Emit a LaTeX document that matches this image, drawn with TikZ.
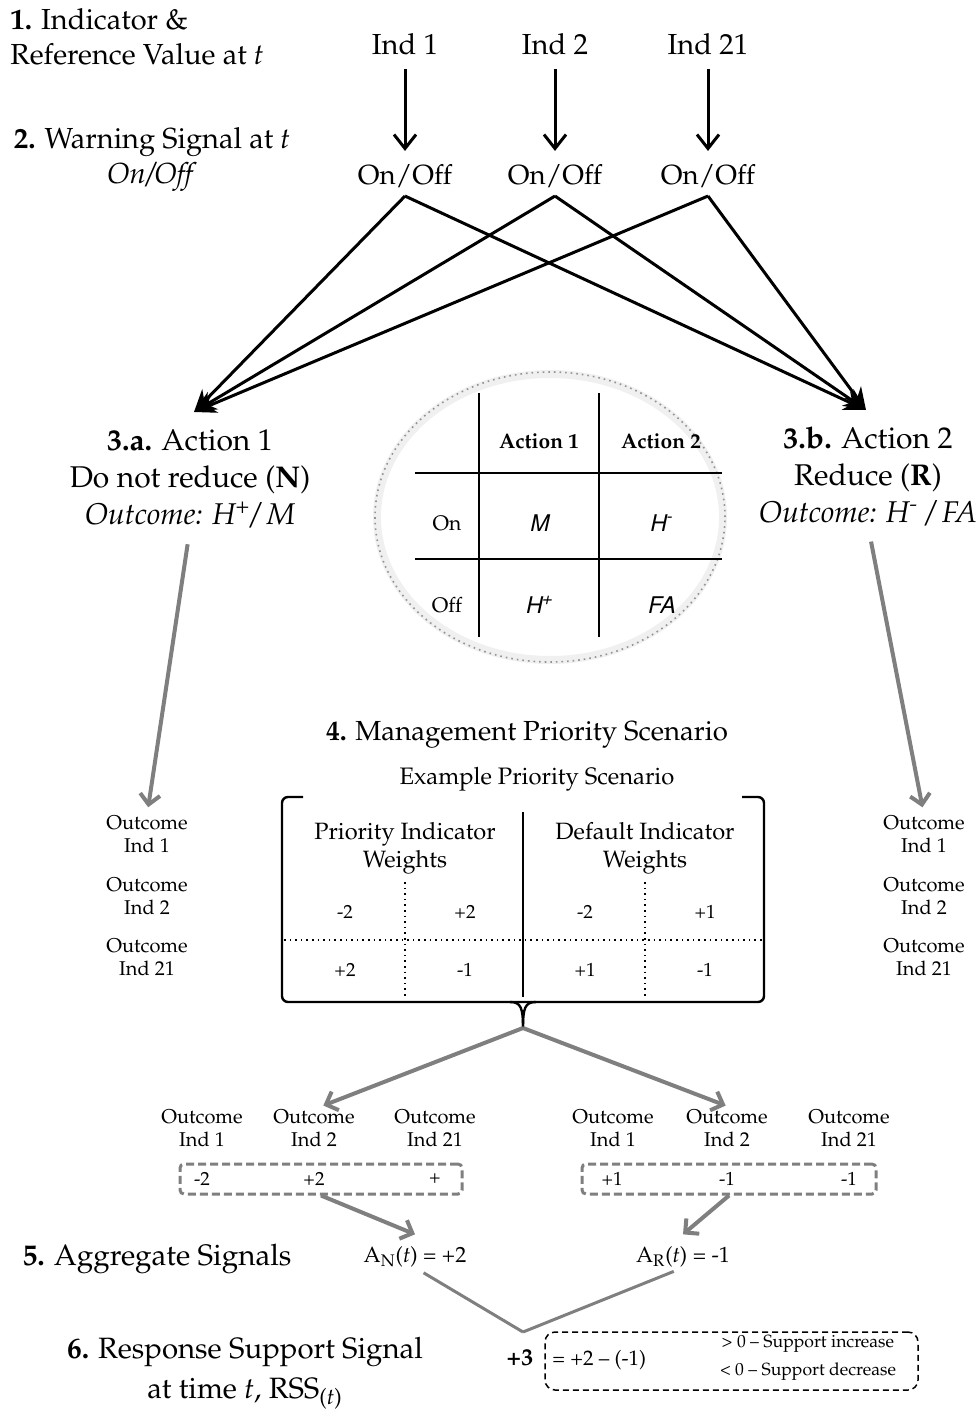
\documentclass[tikz,border=0pt]{standalone}
\usepackage[T1]{fontenc}
\usepackage{mathpazo}
\usepackage[scaled=0.92]{helvet}
\usetikzlibrary{arrows.meta,shapes.geometric}
\newcommand\fsz[2]{\fontsize{#1}{#2}\selectfont}
\definecolor{gr}{HTML}{7F7F7F}
\begin{document}
\begin{tikzpicture}[x=0.5pt,y=-0.5pt,
  lab/.style={inner sep=0pt, align=center},
  big/.style={lab, font=\fsz{14.5}{17.5}},
  act/.style={lab, font=\fsz{15}{18.5}},
  head/.style={lab, font=\fsz{14.8}{20}},
  outc/.style={lab, font=\fsz{10}{11.5}},
  val/.style={lab, font=\fsz{9.5}{11}},
  tab/.style={lab, font=\fsz{10.5}{12}},
  tabit/.style={lab, font=\sffamily\itshape\fsz{12.5}{14}},
  vert/.style={line width=1.5pt, -{Straight Barb[length=7pt,width=11pt]}, shorten <=7pt, shorten >=6.5pt},
  cross/.style={line width=1.5pt, -{Stealth[length=11pt,width=10pt]}},
  grarrow/.style={draw=gr, line width=2pt, -{Straight Barb[length=5pt,width=10pt]}},
  grline/.style={draw=gr, line width=1.5pt},
  gdash/.style={draw=gr, line width=1.5pt, dash pattern=on 4pt off 2pt, rounded corners=2pt},
  thinline/.style={line width=0.9pt},
  dotline/.style={line width=0.8pt, dotted}
]
\useasboundingbox (0,0) rectangle (975,1417);

% --- headings ---
\node[big, anchor=west, align=left] (h1) at (10,37) {\textbf{1.} Indicator \&\\Reference Value at \textit{t}};
\node[big] (h2) at (152,160) {\textbf{2.} Warning Signal at \textit{t}\\\textit{On/Off}};

% --- indicators ---
\node[big] (i1) at (405,44) {Ind 1};
\node[big] (i2) at (555,44) {Ind 2};
\node[big] (i21) at (708,44) {Ind 21};
\node[big, font=\fsz{13.8}{16}] (on1) at (405,176) {On/Off};
\node[big, font=\fsz{13.8}{16}] (on2) at (555,176) {On/Off};
\node[big, font=\fsz{13.8}{16}] (on21) at (708,176) {On/Off};
\draw[vert] (i1) -- (on1);
\draw[vert] (i2) -- (on2);
\draw[vert] (i21) -- (on21);

% --- actions ---
\node[act] (a1) at (190,479) {\textbf{3.a.} Action 1\\Do not reduce (\textbf{N})\\\textit{Outcome: H\textsuperscript{+}/ M}};
\node[act] (a2) at (868,476) {\textbf{3.b.} Action 2\\Reduce (\textbf{R})\\\textit{Outcome: H\textsuperscript{-} / FA}};
\coordinate (t1) at (194,412);
\coordinate (t2) at (866,410);
\foreach \o in {on1,on2,on21}{
  \draw[cross] ([yshift=-4pt]\o.south) -- (t1);
  \draw[cross] ([yshift=-4pt]\o.south) -- (t2);
}

% --- ellipse table ---
\node[draw=gray!12, line width=4pt, ellipse, minimum width=173pt, minimum height=143pt] (ellg) at (550,517) {};
\node[draw=gray!85, dotted, ellipse, line width=0.8pt, minimum width=175pt, minimum height=145pt] (ell) at (550,517) {};
\draw[thinline] (479,393) -- (479,637);
\draw[thinline] (599,393) -- (599,637);
\draw[thinline] (415,473) -- (722,473);
\draw[thinline] (415,559) -- (722,559);
\node[tab, font=\bfseries\fsz{10.5}{12}] (c1) at (539,441) {Action 1};
\node[tab, font=\bfseries\fsz{10.5}{12}] (c2) at (661,441) {Action 2};
\node[tab] (r1) at (447,523) {On};
\node[tab] (r2) at (447,605) {Off};
\node[tabit] (m) at (539,523) {M};
\node[tabit] (hm) at (661,523) {H\textsuperscript{-}};
\node[tabit] (hp) at (539,605) {H\textsuperscript{+}};
\node[tabit] (fa) at (661,605) {FA};

% --- outcome columns ---
\node[outc] (oL1) at (147,834) {Outcome\\Ind 1};
\node[outc] (oL2) at (147,896) {Outcome\\Ind 2};
\node[outc] (oL21) at (147,957) {Outcome\\Ind 21};
\node[outc] (oR1) at (924,834) {Outcome\\Ind 1};
\node[outc] (oR2) at (924,896) {Outcome\\Ind 2};
\node[outc] (oR21) at (924,957) {Outcome\\Ind 21};
\draw[grarrow, shorten <=8pt, shorten >=4pt] (a1.south) -- (oL1.north);
\draw[grarrow, shorten <=8pt, shorten >=4pt] (a2.south) -- (oR1.north);

% --- management priority scenario ---
\node[head, font=\fsz{13.8}{16}] (h4) at (527,735) {\textbf{4.} Management Priority Scenario};
\node[lab, font=\fsz{11.9}{13}] (ex) at (537,779) {Example Priority Scenario};
\draw[line width=1.2pt, rounded corners=3pt] (303,797) -| (282,1002) -| (764,797) -- (742,797);
\coordinate (cusp) at (523,1028);
\draw[line width=1.2pt] (510,1002) .. controls (521,1002) and (523,1008) .. (cusp);
\draw[line width=1.2pt] (536,1002) .. controls (525,1002) and (523,1008) .. (cusp);
\draw[line width=1.2pt] (523,812) -- (523,997);
\draw[dotline] (405,882) -- (405,997);
\draw[dotline] (645,882) -- (645,997);
\draw[dotline] (284,940) -- (762,940);
\node[lab, font=\fsz{11.8}{14}] (ph) at (405,848) {Priority Indicator\\Weights};
\node[lab, font=\fsz{11.8}{14}] (dh) at (645,848) {Default Indicator\\Weights};
\node[val] (w11) at (345,912) {-2};
\node[val] (w12) at (465,912) {+2};
\node[val] (w13) at (585,912) {-2};
\node[val] (w14) at (705,912) {+1};
\node[val] (w21) at (345,970) {+2};
\node[val] (w22) at (465,970) {-1};
\node[val] (w23) at (585,970) {+1};
\node[val] (w24) at (705,970) {-1};

% --- weighted outcomes ---
\node[outc] (bL1) at (202,1128) {Outcome\\Ind 1};
\node[outc] (bL2) at (314,1128) {Outcome\\Ind 2};
\node[outc] (bL21) at (435,1128) {Outcome\\Ind 21};
\node[outc] (bR1) at (613,1128) {Outcome\\Ind 1};
\node[outc] (bR2) at (727,1128) {Outcome\\Ind 2};
\node[outc] (bR21) at (849,1128) {Outcome\\Ind 21};
\draw[grarrow, shorten >=5pt] (cusp) -- (bL2.north);
\draw[grarrow, shorten >=5pt] (cusp) -- ([xshift=4pt]bR2.north);
\node[gdash, minimum width=141pt, minimum height=15pt, inner sep=0pt] (dL) at (321,1179) {};
\node[gdash, minimum width=147pt, minimum height=15pt, inner sep=0pt] (dR) at (729,1179) {};
\node[val] (vL1) at (202,1179) {-2};
\node[val] (vL2) at (314,1179) {+2};
\node[val] (vL3) at (435,1179) {+};
\node[val] (vR1) at (612,1179) {+1};
\node[val] (vR2) at (727,1179) {-1};
\node[val] (vR3) at (849,1179) {-1};

% --- aggregate signals ---
\node[head] (h5) at (157,1259) {\textbf{5.} Aggregate Signals};
\node[lab, font=\fsz{11}{12}] (AN) at (415,1257) {A\textsubscript{N}(\textit{t}) = +2};
\node[lab, font=\fsz{11}{12}] (AR) at (683,1257) {A\textsubscript{R}(\textit{t}) = -1};
\draw[grarrow] (dL.south) -- ([yshift=6pt]AN.north);
\draw[grarrow] (dR.south) -- ([yshift=6pt]AR.north);
\coordinate (vtx) at (523,1332);
\draw[grline, shorten <=5pt] (AN.south) -- (vtx);
\draw[grline, shorten >=5pt] (vtx) -- (AR.south);

% --- response support signal ---
\node[head, font=\fsz{14.7}{20}] (h6) at (245,1373) {\textbf{6.} Response Support Signal\\at time \textit{t}, RSS\textsubscript{(\textit{t})}};
\node[lab, font=\bfseries\fsz{12}{14}] (p3) at (520,1358) {+3};
\node[draw, line width=0.75pt, dash pattern=on 3pt off 2pt, rounded corners=5pt, minimum width=186.5pt, minimum height=29pt, inner sep=0pt] (rss) at (731.5,1361) {};
\node[lab, anchor=west, font=\fsz{10.5}{12}] (eq) at (552,1360) {= +2 -- (-1)};
\node[lab, font=\fsz{8.8}{10}] (c1s) at (808,1344) {{\textgreater} 0 -- Support increase};
\node[lab, font=\fsz{8.8}{10}] (c2s) at (808,1372) {{\textless} 0 -- Support decrease};
\end{tikzpicture}
\end{document}
